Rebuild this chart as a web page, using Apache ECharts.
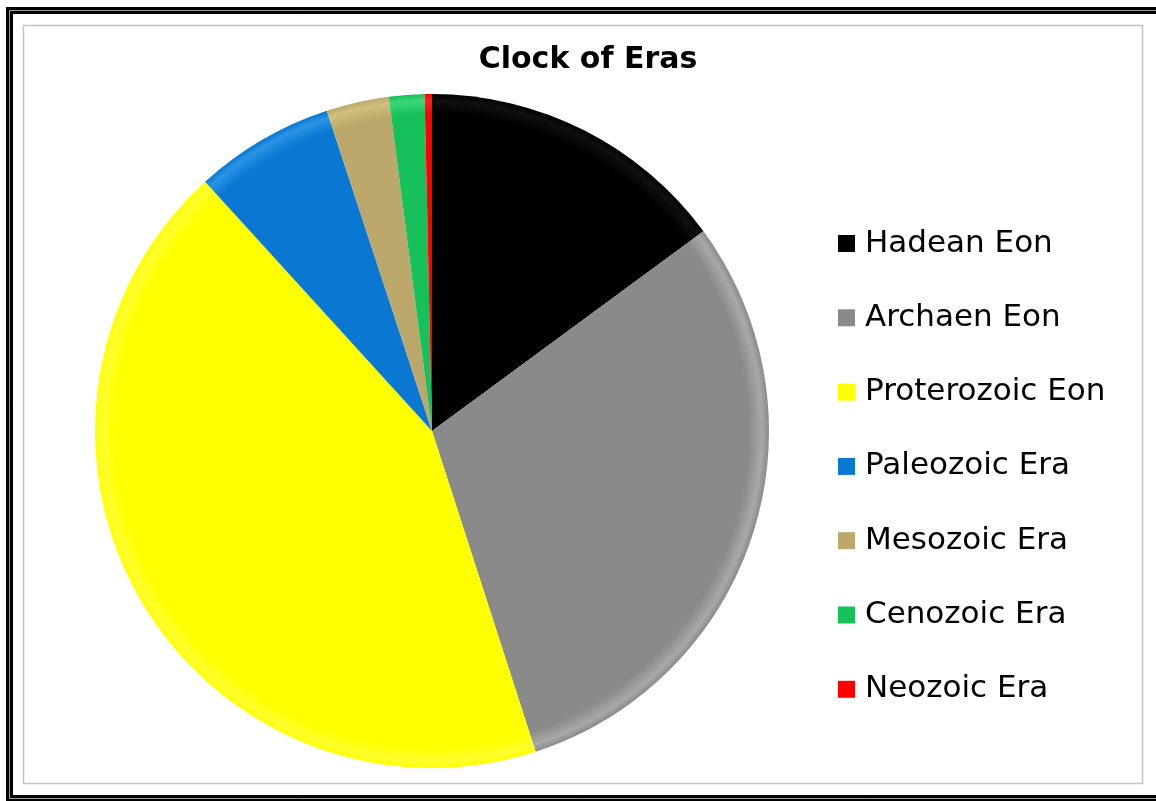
<!DOCTYPE html>
<html>
<head>
<meta charset="utf-8">
<script src="https://cdn.jsdelivr.net/npm/echarts@6/dist/echarts.min.js"></script>
<style>
html,body{margin:0;padding:0;background:#fff;}
#chart{width:1156px;height:801px;}
</style>
</head>
<body>
<div id="chart"></div>
<script>
const categories = ['Hadean Eon','Archaen Eon','Proterozoic Eon','Paleozoic Era','Mesozoic Era','Cenozoic Era','Neozoic Era'];
const values = [14.9, 30.1, 43.2, 6.7, 3.0, 1.7, 0.35];
const colors = ['#000000','#8a8a8a','#ffff00','#0a78d2','#bca86a','#16c05a','#ff0000'];
const lighter = ['#101010','#a8a8a8','#ffff30','#2a94e6','#d2c080','#3cd67a','#ff2020'];

const cx = 432, cy = 431, R = 337;
function grad(i){
  return {
    type:'radial', x:cx, y:cy, r:R, global:true,
    colorStops:[
      {offset:0, color:colors[i]},
      {offset:0.94, color:colors[i]},
      {offset:0.98, color:lighter[i]},
      {offset:1, color:colors[i]}
    ]
  };
}

const chart = echarts.init(document.getElementById('chart'));
chart.setOption({
  backgroundColor:'#ffffff',
  animation:false,
  title:{
    text:'Clock of Eras', left:583, top:40, textAlign:'center',
    textStyle:{fontFamily:'DejaVu Sans, sans-serif', fontWeight:'bold', fontSize:30, color:'#000'}
  },
  legend:{
    orient:'vertical', left:833, top:223,
    itemWidth:17, itemHeight:17, itemGap:43.3,
    icon:'rect',
    data:categories,
    textStyle:{fontFamily:'DejaVu Sans, sans-serif', fontSize:31, color:'#000', lineHeight:31, padding:[0,0,0,5]}
  },
  graphic:[
    {type:'rect', shape:{x:9.5,y:10.5,width:1160,height:788}, style:{fill:null, stroke:'#000', lineWidth:7}, silent:true},
    {type:'rect', shape:{x:9.5,y:10.5,width:1160,height:788}, style:{fill:null, stroke:'#9a9a9a', lineWidth:1}, silent:true},
    {type:'rect', shape:{x:23.5,y:25.5,width:1119,height:758}, style:{fill:null, stroke:'#c4c4c4', lineWidth:1.5}, silent:true}
  ],
  series:[{
    type:'pie',
    center:[cx, cy],
    radius:[0, R],
    startAngle:90,
    clockwise:true,
    label:{show:false},
    labelLine:{show:false},
    emphasis:{disabled:true},
    data:categories.map((c,i)=>({name:c, value:values[i], itemStyle:{color:grad(i)}}))
  }],
  color:colors
});
</script>
</body>
</html>
